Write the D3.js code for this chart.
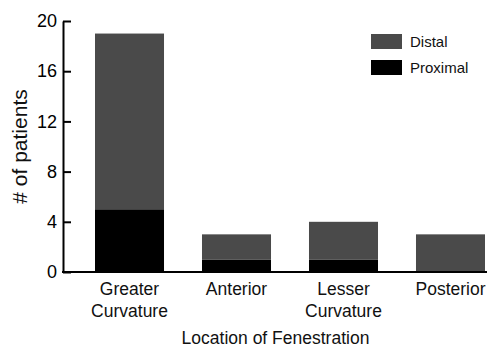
<!DOCTYPE html>
<html>
<head>
<meta charset="utf-8">
<script src="https://cdn.jsdelivr.net/npm/d3@7"></script>
<style>
  body { margin: 0; background: #fff; }
  svg { font-family: "Liberation Sans", Arial, sans-serif; }
</style>
</head>
<body>
<div id="chart"></div>
<script>
// Data
const categories = ['Greater Curvature', 'Anterior', 'Lesser Curvature', 'Posterior'];
const proximal = [5, 1, 1, 0];
const distal = [14, 2, 3, 3];
const yTicks = [0, 4, 8, 12, 16, 20];
const seriesNames = ['Distal', 'Proximal'];

const W = 488, H = 349;
const margin = { top: 21, right: 1, bottom: 77, left: 63 };

const svg = d3.select('#chart')
  .append('svg')
  .attr('width', W)
  .attr('height', H);

// Scales
const x = d3.scaleBand()
  .domain(categories)
  .range([95, 485])
  .paddingInner(0.355)
  .paddingOuter(0);

const y = d3.scaleLinear()
  .domain([0, 20])
  .range([H - margin.bottom, margin.top]);

// Stack
const rows = categories.map((c, i) => ({ cat: c, Proximal: proximal[i], Distal: distal[i] }));
const stack = d3.stack().keys(['Proximal', 'Distal'])(rows);
const colors = { Proximal: '#000000', Distal: '#4a4a4a' };

svg.append('g')
  .selectAll('g')
  .data(stack)
  .join('g')
  .attr('fill', d => colors[d.key])
  .selectAll('rect')
  .data(d => d.filter(s => s[1] > s[0]))
  .join('rect')
  .attr('x', d => x(d.data.cat))
  .attr('width', x.bandwidth())
  .attr('y', d => y(d[1]))
  .attr('height', d => y(d[0]) - y(d[1]));

// Y axis (ticks point inward)
const yAxis = svg.append('g')
  .attr('transform', `translate(${margin.left},0)`)
  .call(d3.axisLeft(y).tickValues(yTicks).tickSizeInner(-8).tickSizeOuter(0).tickPadding(6));
yAxis.select('.domain').attr('stroke-width', 2);
yAxis.selectAll('.tick line').attr('stroke-width', 2);
yAxis.selectAll('text').attr('font-size', 18).attr('fill', '#000');

// X axis line
svg.append('line')
  .attr('x1', margin.left - 1)
  .attr('x2', W - margin.right)
  .attr('y1', y(0))
  .attr('y2', y(0))
  .attr('stroke', '#000')
  .attr('stroke-width', 2);

// X tick labels (two lines)
const xl = svg.append('g')
  .selectAll('text')
  .data(categories)
  .join('text')
  .attr('text-anchor', 'middle')
  .attr('font-size', 17.5)
  .attr('fill', '#111')
  .attr('transform', d => `translate(${x(d) + x.bandwidth() / 2},${y(0) + 23})`);
xl.each(function (d) {
  const words = d.split(' ');
  d3.select(this).selectAll('tspan')
    .data(words)
    .join('tspan')
    .attr('x', 0)
    .attr('dy', (w, i) => i === 0 ? 0 : 21.5)
    .text(w => w);
});

// Axis titles
svg.append('text')
  .attr('x', (margin.left + W) / 2)
  .attr('y', 344)
  .attr('text-anchor', 'middle')
  .attr('font-size', 17.5)
  .attr('fill', '#111')
  .text('Location of Fenestration');

svg.append('text')
  .attr('transform', `translate(27,${(y(0) + y(20)) / 2}) rotate(-90)`)
  .attr('text-anchor', 'middle')
  .attr('font-size', 21)
  .attr('fill', '#111')
  .text('# of patients');

// Legend
const legend = svg.append('g')
  .selectAll('g')
  .data(seriesNames)
  .join('g')
  .attr('transform', (d, i) => `translate(371,${34 + i * 26})`);
legend.append('rect')
  .attr('width', 31)
  .attr('height', 15)
  .attr('fill', d => colors[d]);
legend.append('text')
  .attr('x', 39)
  .attr('y', 13)
  .attr('font-size', 15)
  .attr('fill', '#111')
  .text(d => d);
</script>
</body>
</html>
